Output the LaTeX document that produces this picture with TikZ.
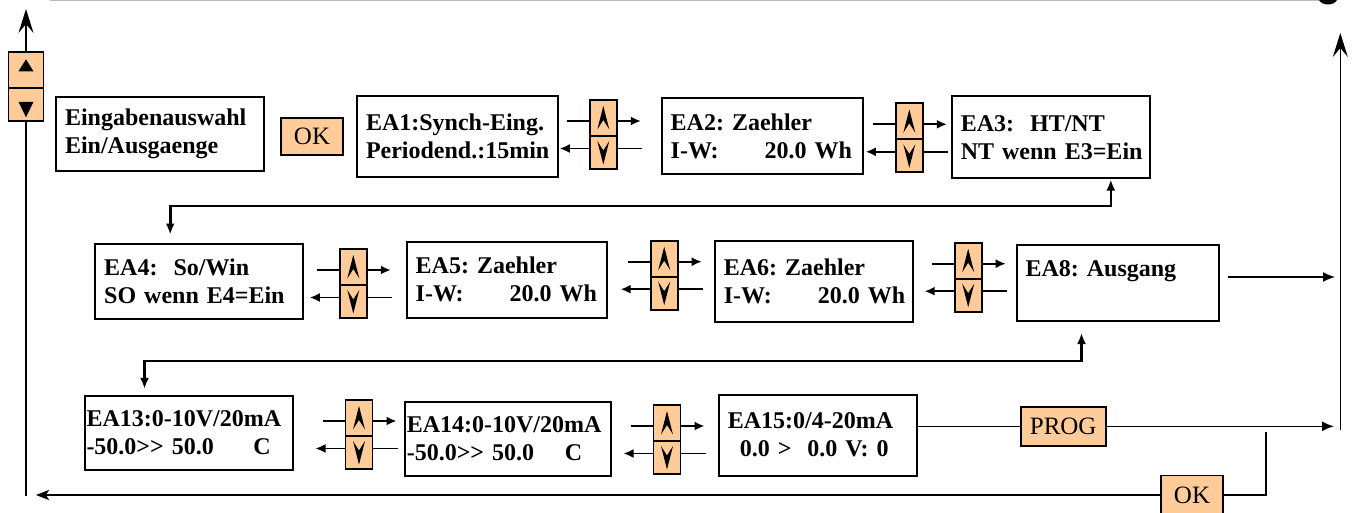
\documentclass[tikz,border=0pt]{standalone}
\usepackage{fontspec}
\setmainfont{Liberation Serif}
\usetikzlibrary{arrows.meta,positioning,backgrounds}
\definecolor{keyfill}{HTML}{FFCC99}
\definecolor{rulegray}{HTML}{BBBBBB}
\newcommand{\twoline}[2]{\mbox{#1}\\\mbox{#2}}

\begin{document}
\begin{tikzpicture}[
  x=1pt, y=-1pt,
  font=\fontsize{24}{28}\selectfont\bfseries,
  >={Latex[length=10pt,width=9pt]},
  disp/.style={draw, line width=2pt, align=left, inner xsep=9pt, inner ysep=0pt,
               execute at begin node=\frenchspacing},
  key/.style={draw, line width=1.8pt, fill=keyfill, minimum width=27pt, inner sep=0pt, outer sep=0pt},
  keyup/.style={key, minimum height=36pt,
    path picture={\fill[black, shift={(path picture bounding box.center)}] (0,-12) -- (6,11.5) -- (0,2) -- (-6,11.5) -- cycle;}},
  keydn/.style={key, minimum height=33pt,
    path picture={\fill[black, shift={(path picture bounding box.center)}] (0,12) -- (6,-11.5) -- (0,-2) -- (-6,-11.5) -- cycle;}},
  navup/.style={key, minimum width=35pt, minimum height=36pt,
    path picture={\fill[black, shift={(path picture bounding box.center)}] (0,-11) -- (7.5,1) -- (-7.5,1) -- cycle;}},
  navdn/.style={key, minimum width=35pt, minimum height=33pt,
    path picture={\fill[black, shift={(path picture bounding box.center)}] (0,12.5) -- (7.5,-3) -- (-7.5,-3) -- cycle;}},
  btn/.style={draw, line width=1.8pt, fill=keyfill, inner sep=0pt, font=\fontsize{25}{28}\selectfont\mdseries},
  arr/.style={->, line width=1.8pt},
  outarr/.style={->, line width=1.5pt, >={Latex[length=12pt,width=10pt]}},
  link/.style={<->, line width=2.6pt, >={Latex[length=11pt,width=9pt]}},
  wire/.style={line width=1.5pt},
  rail/.style={->, line width=1.5pt, >={Stealth[length=24pt,width=15pt,inset=9pt]}},
  backarr/.style={->, line width=1.5pt, >={Stealth[length=13pt,width=10pt,inset=3pt]}},
]
\useasboundingbox (0,0) rectangle (1356,513);

% ---- top edge ----
\draw[rulegray, line width=1.5pt] (50,0.5) -- (1322,0.5);
\fill (1319,0) .. controls (1322,6) and (1334,6) .. (1337,0) -- cycle;

% ---- row 1 ----
\node[disp, text width=190pt, minimum height=74pt] (sel) at (160,134.2) {\twoline{Eingabenauswahl}{Ein/Ausgaenge}};
\node[btn, minimum width=62pt, minimum height=37pt] (ok1) at (312,136.7) {OK};
\node[disp, text width=183pt, minimum height=81pt] (ea1) at (457.5,136.3) {\twoline{EA1:Synch-Eing.}{Periodend.:15min}};
\node[disp, text width=183pt, minimum height=76pt] (ea2) at (762.2,136.2) {\twoline{EA2: Zaehler}{\makebox[94pt][l]{I-W:}20.0 Wh}};
\node[disp, text width=180pt, minimum height=82pt] (ea3) at (1050.8,137.5) {\twoline{EA3:\ \ HT/NT}{NT wenn E3=Ein}};

% ---- row 2 ----
\node[disp, text width=190pt, minimum height=75pt] (ea4) at (199.2,281) {\twoline{EA4:\ \ So/Win}{SO wenn E4=Ein}};
\node[disp, text width=182pt, minimum height=76pt] (ea5) at (506.7,279.7) {\twoline{EA5: Zaehler}{\makebox[94pt][l]{I-W:}20.0 Wh}};
\node[disp, text width=180pt, minimum height=81pt] (ea6) at (813.8,281) {\twoline{EA6: Zaehler}{\makebox[94pt][l]{I-W:}20.0 Wh}};
\node[disp, text width=184pt, minimum height=76pt] (ea8) at (1117.5,283) {\twoline{EA8: Ausgang}{}};

% ---- row 3 ----
\node[disp, inner xsep=2pt, text width=204pt, minimum height=74pt] (ea13) at (188.5,432.8) {\twoline{EA13:0-10V/20mA}{\makebox[167pt][l]{-50.0>{}> 50.0}C}};
\node[disp, inner xsep=2pt, text width=202pt, minimum height=74pt] (ea14) at (507.8,438.8) {\twoline{EA14:0-10V/20mA}{\makebox[158pt][l]{-50.0>{}> 50.0}C}};
\node[disp, text width=180pt, minimum height=81pt] (ea15) at (817.8,435) {\twoline{EA15:0/4-20mA}{\hspace*{12pt}0.0 >\ \ 0.0 V: 0}};
\node[btn, minimum width=85pt, minimum height=39pt] (prog) at (1063.2,426.3) {PROG};
\node[btn, minimum width=62pt, minimum height=39pt] (ok2) at (1192,495) {OK};

% ---- up/down keys ----
\node[navup] (k0up) at (26,70.3) {};
\node[navdn, below=0pt of k0up] (k0dn) {};
\node[keyup] (k1up) at (603.3,118) {};
\node[keydn, below=0pt of k1up] (k1dn) {};
\node[keyup] (k2up) at (909.3,121.3) {};
\node[keydn, below=0pt of k2up] (k2dn) {};
\node[keyup] (k3up) at (353.3,267) {};
\node[keydn, below=0pt of k3up] (k3dn) {};
\node[keyup] (k4up) at (664.2,258.7) {};
\node[keydn, below=0pt of k4up] (k4dn) {};
\node[keyup] (k5up) at (968.2,260.7) {};
\node[keydn, below=0pt of k5up] (k5dn) {};
\node[keyup] (k6up) at (359,418) {};
\node[keydn, below=0pt of k6up] (k6dn) {};
\node[keyup] (k7up) at (667,423) {};
\node[keydn, below=0pt of k7up] (k7dn) {};

% ---- free ends ----
\coordinate (ltop) at (26,9);
\coordinate (lbot) at (26,496);
\coordinate (rtop) at (1340.3,33);
\coordinate (rbot) at (1340.3,430);
\coordinate (e8out) at (1335,277);
\coordinate (progout) at (1334,426.3);
\coordinate (okturn) at (1266,432);
\coordinate (okend) at (36,495);

% ---- arrows through the keys ----
\begin{scope}[on background layer]
  \foreach \kp in {k1,k2,k3,k4,k5,k6,k7} {
    \draw[arr] ([xshift=-23pt,yshift=-3pt]\kp up.west) -- ([xshift=24pt,yshift=-3pt]\kp up.east);
    \draw[arr] ([xshift=25pt,yshift=4pt]\kp dn.east) -- ([xshift=-30pt,yshift=4pt]\kp dn.west);
  }
  \draw[rail] (k0up.north) -- (ltop);
  \draw[wire] (k0dn.south) -- (lbot);
\end{scope}

% ---- row links ----
\draw[link] ([xshift=76pt,yshift=8pt]ea4.north west) -- ++(0,-28.7) -| ([xshift=-40pt]ea3.south east);
\draw[link] ([xshift=61pt,yshift=6pt]ea13.north west) -- ++(0,-28) -| ([xshift=66pt,yshift=-11pt]ea8.south west);

% ---- right rail ----
\draw[rail] (rbot) -- (rtop);
\draw[outarr] ([xshift=8pt]ea8.east |- e8out) -- (e8out);
\draw[wire] (ea15.east |- prog.west) -- (prog.west);
\draw[outarr] (prog.east) -- (progout);
\draw[wire] (ok2.east) -| (okturn);
\draw[backarr] (ok2.west) -- (ok2.west -| okend);

\end{tikzpicture}
\end{document}
